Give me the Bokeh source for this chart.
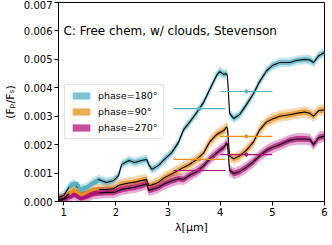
from bokeh.plotting import figure
from bokeh.models import (Range1d, FixedTicker, PrintfTickFormatter, Label,
                          Legend, LegendItem)
from bokeh.embed import file_html
from bokeh.resources import INLINE
import numpy as np

# ---------------- data ----------------
wl_model = [0.9, 1.0, 1.12, 1.2, 1.31, 1.44, 1.57, 1.67, 1.82, 1.96, 2.05, 2.11,
            2.25, 2.36, 2.49, 2.59, 2.63, 2.69, 2.82, 2.93, 3.07, 3.2, 3.3, 3.41,
            3.55, 3.68, 3.8, 3.93, 3.99, 4.07, 4.12, 4.14, 4.18, 4.26, 4.37, 4.5,
            4.64, 4.75, 4.89, 5.0, 5.14, 5.33, 5.46, 5.62, 5.72, 5.79, 5.89, 6.0]

model_180 = [0.00014, 0.00021, 0.00056, 0.00062, 0.00042, 0.00049, 0.00067, 0.00077,
             0.00067, 0.00074, 0.00091, 0.00130, 0.00144, 0.00137, 0.00144, 0.00148,
             0.00130, 0.00113, 0.00127, 0.00148, 0.00172, 0.00208, 0.00253, 0.00278,
             0.00313, 0.00348, 0.00394, 0.00443, 0.00457, 0.00447, 0.00450, 0.00440,
             0.00310, 0.00292, 0.00305, 0.00340, 0.00380, 0.00420, 0.00460, 0.00478,
             0.00489, 0.00489, 0.00496, 0.00500, 0.00498, 0.00489, 0.00513, 0.00524]

model_90 = [0.00007, 0.00010, 0.00030, 0.00039, 0.00025, 0.00028, 0.00039, 0.00042,
            0.00042, 0.00045, 0.00056, 0.00060, 0.00065, 0.00068, 0.00074, 0.00077,
            0.00056, 0.00058, 0.00068, 0.00084, 0.00097, 0.00110, 0.00120, 0.00130,
            0.00148, 0.00170, 0.00210, 0.00235, 0.00242, 0.00250, 0.00262, 0.00258,
            0.00160, 0.00150, 0.00160, 0.00180, 0.00210, 0.00250, 0.00280, 0.00290,
            0.00300, 0.00305, 0.00310, 0.00315, 0.00310, 0.00300, 0.00320, 0.00322]

model_270 = [0.00004, 0.00007, 0.00018, 0.00025, 0.00014, 0.00018, 0.00028, 0.00030,
             0.00032, 0.00032, 0.00038, 0.00042, 0.00047, 0.00050, 0.00056, 0.00062,
             0.00039, 0.00042, 0.00050, 0.00062, 0.00072, 0.00080, 0.00078, 0.00092,
             0.00105, 0.00125, 0.00150, 0.00170, 0.00180, 0.00190, 0.00205, 0.00200,
             0.00110, 0.00098, 0.00105, 0.00120, 0.00140, 0.00160, 0.00180, 0.00190,
             0.00200, 0.00215, 0.00220, 0.00220, 0.00218, 0.00200, 0.00225, 0.00230]

# 1-sigma and 2-sigma half widths of the retrieved spectra
sig1 = {"180": 0.00009, "90": 0.00010, "270": 0.00010}
sig2 = {"180": 0.00017, "90": 0.00020, "270": 0.00020}

# HST/WFC3 points
wfc3_wl = [1.13, 1.16, 1.19, 1.22, 1.25, 1.28, 1.31, 1.34, 1.37, 1.40, 1.43, 1.46,
           1.49, 1.52, 1.55, 1.58, 1.61, 1.64]
wfc3_180 = [0.00052, 0.00058, 0.00062, 0.00060, 0.00064, 0.00056, 0.00044, 0.00040,
            0.00042, 0.00046, 0.00048, 0.00050, 0.00055, 0.00060, 0.00063, 0.00066,
            0.00068, 0.00070]
wfc3_90 = [0.00030, 0.00034, 0.00038, 0.00036, 0.00034, 0.00030, 0.00024, 0.00022,
           0.00024, 0.00026, 0.00028, 0.00030, 0.00033, 0.00036, 0.00038, 0.00040,
           0.00041, 0.00042]
wfc3_270 = [0.00016, 0.00020, 0.00024, 0.00022, 0.00020, 0.00016, 0.00012, 0.00010,
            0.00013, 0.00015, 0.00017, 0.00020, 0.00023, 0.00026, 0.00028, 0.00030,
            0.00031, 0.00032]
wfc3_err = 0.00004

# Spitzer/IRAC points
irac_wl = [3.6, 4.5]
irac_halfwidth = [0.5, 0.5]
irac_180 = [0.00327, 0.00387]
irac_90 = [0.00148, 0.00229]
irac_270 = [0.00109, 0.00165]
irac_err = [0.00006, 0.00007]

phases = ["180", "90", "270"]
labels = ["phase=180°", "phase=90°", "phase=270°"]
colors = {"180": "#56b1c6", "90": "#e88f1a", "270": "#b0127c"}
models = {"180": model_180, "90": model_90, "270": model_270}
wfc3 = {"180": wfc3_180, "90": wfc3_90, "270": wfc3_270}
irac = {"180": irac_180, "90": irac_90, "270": irac_270}

x_ticks = [1, 2, 3, 4, 5, 6]
y_ticks = [0.0, 0.001, 0.002, 0.003, 0.004, 0.005, 0.006, 0.007]

# ---------------- figure ----------------
p = figure(output_backend="svg", toolbar_location=None,
           frame_width=266, frame_height=199,
           x_range=Range1d(0.9, 6.0), y_range=Range1d(0.0, 0.007),
           min_border_left=8, min_border_right=7, min_border_top=2,
           min_border_bottom=4)
p.background_fill_color = "white"
p.border_fill_color = "white"
p.outline_line_color = "black"
p.outline_line_width = 1
p.xgrid.visible = False
p.ygrid.visible = False

FONT = "DejaVu Sans"
for ax in (p.xaxis[0], p.yaxis[0]):
    ax.major_label_text_font = FONT
    ax.major_label_text_font_size = "10px"
    ax.major_label_text_color = "black"
    ax.axis_label_text_font = FONT
    ax.axis_label_text_font_size = "11px"
    ax.axis_label_text_font_style = "normal"
    ax.axis_label_text_color = "black"
    ax.major_tick_in = 0
    ax.major_tick_out = 4
    ax.minor_tick_in = 0
    ax.minor_tick_out = 0
    ax.axis_line_color = "black"
    ax.major_tick_line_color = "black"
    ax.major_label_standoff = 2

p.xaxis[0].ticker = FixedTicker(ticks=x_ticks)
p.yaxis[0].ticker = FixedTicker(ticks=y_ticks)
p.yaxis[0].formatter = PrintfTickFormatter(format="%.3f")
p.xaxis[0].axis_label = "λ[μm]"
p.yaxis[0].axis_label = "(Fₚ/Fₛ)"
p.xaxis[0].axis_label_standoff = 2
p.yaxis[0].axis_label_standoff = 4

legend_items = []
for ph in phases:
    m = np.array(models[ph])
    c = colors[ph]
    p.varea(x=wl_model, y1=m - sig2[ph], y2=m + sig2[ph], fill_color=c, fill_alpha=0.35)
    r = p.varea(x=wl_model, y1=m - sig1[ph], y2=m + sig1[ph], fill_color=c, fill_alpha=0.75)
    legend_items.append(r)

for ph in phases:
    p.line(wl_model, models[ph], line_color="black", line_width=1.1)

for ph in phases:
    c = colors[ph]
    w = np.array(wfc3_wl)
    v = np.array(wfc3[ph])
    p.segment(x0=w, y0=v - wfc3_err, x1=w, y1=v + wfc3_err, line_color=c, line_width=1.5)
    p.line(wfc3_wl, wfc3[ph], line_color=c, line_width=2.5)
    p.scatter(wfc3_wl, wfc3[ph], size=3, fill_color=c, line_color=c)

for ph in phases:
    c = colors[ph]
    xw = np.array(irac_wl)
    hw = np.array(irac_halfwidth)
    v = np.array(irac[ph])
    e = np.array(irac_err)
    p.segment(x0=xw - hw, y0=v, x1=xw + hw, y1=v, line_color=c, line_width=1.2)
    p.segment(x0=xw, y0=v - e, x1=xw, y1=v + e, line_color=c, line_width=1.2)
    p.scatter(irac_wl, irac[ph], size=3, fill_color=c, line_color=c)

legend = Legend(items=[LegendItem(label=l, renderers=[r]) for l, r in zip(labels, legend_items)],
                location=(6, 62))
legend.label_text_font = FONT
legend.label_text_font_size = "9.5px"
legend.label_text_color = "black"
legend.glyph_width = 22
legend.glyph_height = 9
legend.label_standoff = 6
legend.spacing = 5
legend.padding = 5
legend.margin = 0
legend.border_line_color = "#cccccc"
legend.border_line_width = 1
legend.background_fill_alpha = 0.85
legend.label_height = 10
p.add_layout(legend, "center")

title = Label(x=5, y=171, x_units="screen", y_units="screen",
              text="C: Free chem, w/ clouds, Stevenson",
              text_font=FONT, text_font_size="12px", text_color="black",
              text_baseline="alphabetic")
p.add_layout(title)

open("out.html", "w").write(file_html(p, INLINE))
